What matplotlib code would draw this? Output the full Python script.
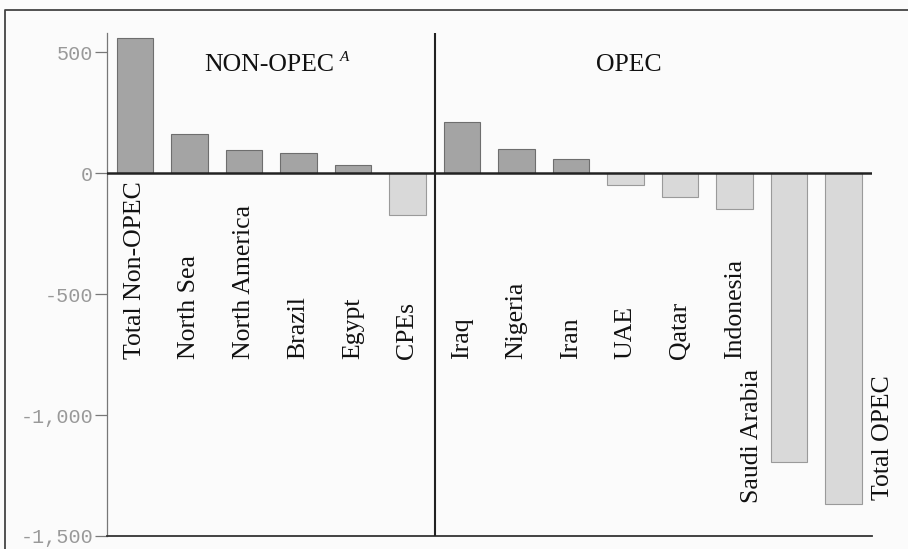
import matplotlib
matplotlib.use("Agg")
import matplotlib.pyplot as plt
from matplotlib.lines import Line2D

# DATA (thousand b/d change)
countries = ["Total Non-OPEC", "North Sea", "North America", "Brazil", "Egypt", "CPEs",
             "Iraq", "Nigeria", "Iran", "UAE", "Qatar", "Indonesia", "Saudi Arabia", "Total OPEC"]
changes = [560, 162, 96, 83, 33, -171,
           212, 100, 58, -50, -100, -146, -1195, -1367]
yticks = [500, 0, -500, -1000, -1500]
ytick_labels = ["500", "0", "-500", "-1,000", "-1,500"]

fig = plt.figure(figsize=(9.08, 5.49), dpi=100)
fig.patch.set_facecolor("#fbfbfb")
ax = fig.add_axes([0.1178, 0.0237, 0.8426, 0.9162])
ax.set_facecolor("#fbfbfb")

# bars: darker for gains, lighter for losses
xs = list(range(len(countries)))
colors = ["#a4a4a4" if v > 0 else "#d9d9d9" for v in changes]
edges = ["#6e6e6e" if v > 0 else "#9a9a9a" for v in changes]
ax.bar(xs, changes, width=0.67, color=colors, edgecolor=edges, linewidth=0.8, zorder=2)

ax.set_xlim(-0.51, 13.52)
ax.set_ylim(-1500, 580)

# zero line and group divider
ax.axhline(0, color="#222222", lw=1.8, zorder=3)
ax.axvline(5.5, color="#222222", lw=1.5, zorder=3)

# spines
ax.spines["top"].set_visible(False)
ax.spines["right"].set_visible(False)
ax.spines["left"].set_color("#777777")
ax.spines["left"].set_linewidth(0.9)
ax.spines["bottom"].set_color("#333333")
ax.spines["bottom"].set_linewidth(1.3)

ax.set_xticks([])
ax.set_yticks(yticks)
ax.set_yticklabels(ytick_labels, family="Liberation Mono", fontsize=14.5, color="#999999")
ax.tick_params(axis="y", direction="out", length=8.5, width=0.9, color="#777777", pad=1.5)

# country labels, rotated
serif = "Liberation Serif"
for i, name in enumerate(countries):
    if name == "Saudi Arabia":
        ax.text(11.32, -1363, name, rotation=90, ha="center", va="bottom",
                family=serif, fontsize=18.5, color="#111111")
    elif name == "Total OPEC":
        ax.text(13.72, -1351, name, rotation=90, ha="center", va="bottom",
                family=serif, fontsize=18.5, color="#111111", clip_on=False)
    else:
        ax.text(i, -768, name, rotation=90, ha="center", va="bottom",
                family=serif, fontsize=18.5, color="#111111")

# group headers
ax.text(1.28, 448, "NON-OPEC", ha="left", va="center", family=serif, fontsize=18.5, color="#111111")
ax.text(3.76, 478, "A", ha="left", va="center", family=serif, style="italic",
        fontsize=11, color="#111111")
ax.text(9.06, 448, "OPEC", ha="center", va="center", family=serif, fontsize=18.5, color="#111111")

# outer frame (left and top edges)
fig.add_artist(Line2D([5 / 908, 5 / 908, 1.0], [0.0, 1 - 10 / 549, 1 - 10 / 549],
                      transform=fig.transFigure, color="#444444", lw=1.3))

fig.savefig("out.png", dpi=100, facecolor=fig.get_facecolor())
